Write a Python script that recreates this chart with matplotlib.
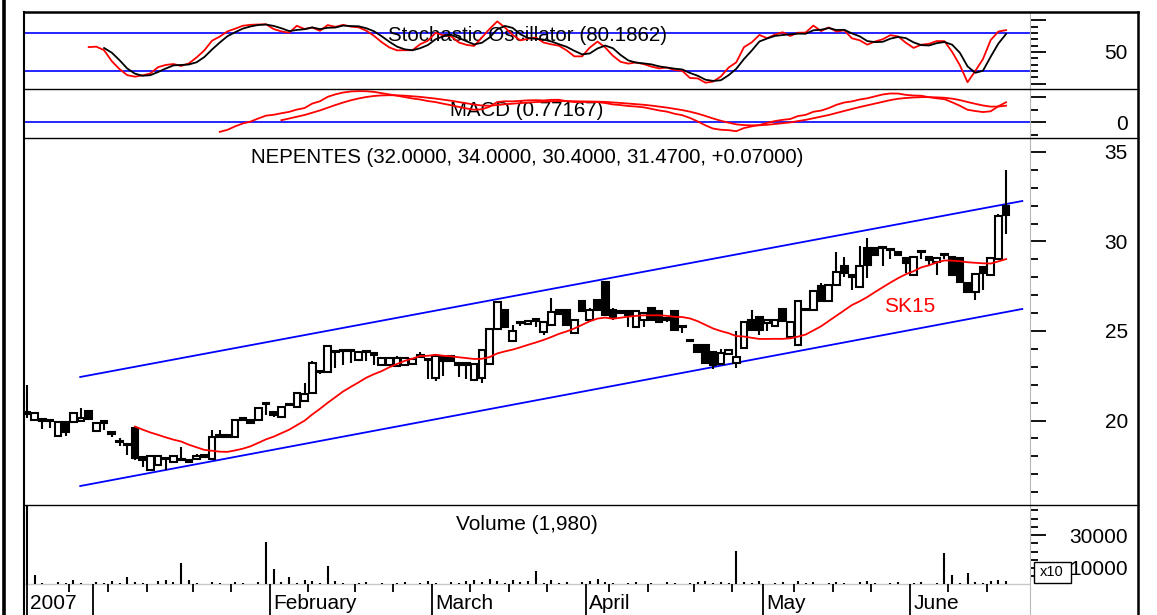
import matplotlib
matplotlib.use("Agg")
import matplotlib.pyplot as plt
from matplotlib.lines import Line2D
from matplotlib.patches import Rectangle
import numpy as np
import pandas as pd

plt.rcParams['font.family'] = ['Liberation Sans', 'DejaVu Sans']

# ---------------- data ----------------
opens = [20.45, 20.05, 20.05, 19.98, 19.15, 19.90, 19.90, 19.98, 20.55, 19.40,
         19.92, 19.30, 18.82, 18.65, 19.58, 17.97, 17.25, 17.50, 17.85, 17.70,
         17.80, 17.82, 17.85, 18.00, 17.85, 19.12, 19.10, 19.10, 20.05, 20.03,
         20.03, 20.95, 20.45, 20.20, 20.85, 20.75, 21.10, 21.55, 22.70, 22.70,
         23.85, 23.90, 23.88, 23.38, 23.82, 23.70, 23.10, 23.10, 23.05, 23.10,
         23.15, 23.55, 23.40, 22.40, 23.55, 23.60, 23.15, 23.15, 22.25, 22.40,
         23.15, 25.10, 26.20, 24.45, 25.45, 25.40, 25.60, 24.95, 25.35, 26.20,
         26.15, 24.90, 26.70, 25.60, 26.75, 27.75, 26.20, 26.10, 26.10, 25.25,
         25.60, 26.30, 26.10, 25.70, 26.10, 25.25, 24.45, 24.20, 24.20, 23.80,
         23.15, 23.70, 23.20, 24.05, 25.60, 25.80, 25.45, 25.30, 26.25, 24.65,
         24.20, 26.20, 26.15, 27.50, 26.70, 27.57, 28.63, 28.05, 27.45, 29.63,
         29.63, 29.65, 29.55, 29.41, 29.07, 28.13, 29.43, 29.13, 28.85, 29.26,
         29.13, 29.07, 27.68, 27.18, 28.57, 28.13, 29.02, 32.00]
highs = [22.00, 20.50, 20.10, 20.00, 19.95, 20.00, 20.45, 20.70, 20.60, 19.90,
         19.95, 19.35, 19.00, 18.70, 19.60, 18.00, 18.05, 18.05, 17.90, 18.05,
         18.50, 17.85, 18.15, 18.10, 19.45, 19.45, 19.20, 20.10, 20.20, 20.10,
         20.75, 21.00, 20.50, 20.80, 21.00, 21.60, 22.10, 23.30, 22.80, 24.20,
         23.90, 23.95, 23.95, 23.85, 23.90, 23.75, 23.55, 23.55, 23.60, 23.55,
         23.50, 23.80, 23.45, 23.70, 23.60, 23.62, 23.20, 23.20, 23.20, 24.00,
         25.15, 26.65, 26.25, 25.35, 25.50, 25.60, 25.65, 25.55, 26.85, 26.25,
         26.20, 25.65, 26.75, 26.30, 26.80, 27.80, 26.30, 26.15, 26.15, 26.15,
         26.05, 26.35, 26.15, 25.80, 26.15, 25.30, 24.50, 24.25, 24.25, 23.85,
         24.00, 24.00, 25.00, 25.55, 26.15, 25.85, 25.65, 25.65, 26.30, 25.55,
         26.70, 26.25, 27.30, 27.70, 27.60, 29.41, 29.13, 28.10, 29.75, 30.20,
         29.70, 29.70, 29.60, 29.45, 29.10, 29.20, 29.50, 29.15, 29.10, 29.30,
         29.20, 29.10, 27.70, 28.20, 28.60, 29.10, 31.55, 34.00]
lows = [20.15, 20.00, 19.50, 19.60, 19.10, 19.15, 19.85, 19.90, 20.05, 19.35,
        19.45, 19.10, 18.60, 18.10, 17.80, 17.40, 17.20, 17.45, 17.25, 17.65,
        17.75, 17.60, 17.80, 17.90, 17.80, 19.05, 19.00, 19.05, 19.95, 19.85,
        19.98, 20.30, 20.20, 20.15, 20.80, 20.70, 21.05, 21.50, 22.60, 22.65,
        22.95, 23.10, 23.20, 23.30, 23.30, 23.10, 23.05, 23.05, 23.00, 23.05,
        23.10, 23.50, 22.30, 22.20, 22.50, 23.25, 22.45, 22.30, 22.20, 22.10,
        23.10, 25.05, 25.15, 24.40, 25.30, 25.35, 25.20, 24.80, 25.30, 25.90,
        25.30, 24.85, 26.05, 25.55, 26.15, 25.85, 25.60, 25.95, 25.20, 25.20,
        25.20, 25.55, 25.45, 25.50, 25.00, 24.90, 24.40, 23.75, 23.15, 22.90,
        23.10, 23.65, 22.95, 24.00, 25.00, 24.80, 25.00, 25.25, 25.50, 24.60,
        24.15, 26.10, 26.10, 26.65, 26.65, 27.50, 28.02, 27.30, 27.40, 27.96,
        29.20, 28.63, 29.00, 29.20, 28.24, 28.08, 29.00, 28.68, 28.13, 29.00,
        28.08, 27.70, 27.15, 26.73, 27.30, 28.08, 28.95, 30.40]
closes = [20.35, 20.40, 20.00, 19.95, 19.90, 19.35, 20.40, 20.15, 20.10, 19.85,
          19.88, 19.27, 18.80, 18.62, 17.90, 17.80, 18.00, 18.00, 17.83, 18.00,
          17.78, 17.70, 18.00, 17.97, 19.10, 19.10, 19.12, 20.02, 20.08, 19.88,
          20.70, 20.92, 20.28, 20.75, 20.88, 21.55, 21.50, 23.20, 22.72, 24.15,
          23.80, 23.88, 23.90, 23.80, 23.80, 23.68, 23.50, 23.50, 23.50, 23.50,
          23.45, 23.65, 23.38, 23.60, 23.30, 23.30, 23.12, 23.12, 23.15, 23.95,
          25.10, 26.60, 25.20, 25.00, 25.42, 25.55, 25.58, 25.50, 26.05, 25.95,
          25.35, 25.60, 26.10, 26.20, 26.20, 25.90, 25.70, 26.00, 25.90, 26.10,
          26.00, 25.60, 25.50, 25.60, 25.05, 25.22, 24.42, 23.80, 23.20, 23.10,
          23.75, 23.95, 23.55, 25.50, 25.05, 25.05, 25.60, 25.60, 25.55, 25.50,
          26.65, 26.15, 27.25, 26.70, 27.55, 28.29, 28.25, 28.02, 28.63, 28.68,
          29.24, 29.62, 29.52, 29.24, 28.80, 29.13, 29.41, 28.96, 29.07, 29.24,
          28.13, 27.74, 27.18, 28.18, 28.24, 29.07, 31.40, 31.47]
volumes = [80000, 6000, 1200, 600, 1800, 1200, 3000, 1200, 600, 1800,
           1200, 2400, 1200, 4800, 1800, 1200, 600, 2400, 3000, 1800,
           13000, 3000, 1200, 600, 1800, 1200, 600, 1800, 1200, 600,
           1800, 25700, 9500, 1800, 4800, 1200, 3000, 2400, 1200, 11500,
           2400, 1200, 600, 1200, 1800, 600, 1200, 600, 1200, 1800,
           600, 1200, 2400, 1200, 600, 1800, 1200, 2400, 3000, 1800,
           3600, 2400, 1200, 3000, 1800, 2400, 8000, 1200, 3000, 1200,
           1800, 600, 1800, 2400, 3600, 1800, 1200, 600, 1200, 1800,
           600, 1200, 600, 1800, 1200, 600, 1200, 1800, 2400, 1200,
           1800, 1200, 20500, 1800, 1200, 2400, 600, 1200, 1800, 600,
           2400, 1200, 1800, 600, 1200, 1800, 1200, 600, 1800, 2400,
           1200, 600, 1200, 1800, 600, 1200, 1800, 600, 1200, 18800,
           6000, 1200, 7000, 1800, 1200, 2400, 3000, 1980]

month_labels = ["2007", "", "February", "March", "April", "May", "June"]
month_start = [0, 9, 32, 53, 73, 96, 115]
week_start = [6, 11, 16, 22, 27, 37, 43, 48, 58, 63, 68, 76, 81, 87, 92,
              100, 105, 110, 120, 125]

channel_x = [6.9, 129.1]
channel_upper = [22.43, 32.26]
channel_lower = [16.34, 26.23]

stoch_levels = [20, 80]
sma_period = 15
stoch_period, stoch_smooth = 7, 3

# ---------------- indicators ----------------
o = np.array(opens); h = np.array(highs); l = np.array(lows); c = np.array(closes)
n = len(c)
x = np.arange(n)
cs = pd.Series(c)
sma = cs.rolling(sma_period).mean()

lo_n = pd.Series(l).rolling(stoch_period).min()
hi_n = pd.Series(h).rolling(stoch_period).max()
fastk = 100 * (cs - lo_n) / (hi_n - lo_n)
slowk = fastk.rolling(stoch_smooth).mean()
slowd = slowk.rolling(3).mean()

ema12 = cs.ewm(span=12, adjust=False).mean()
ema26 = cs.ewm(span=26, adjust=False).mean()
macd = (ema12 - ema26)
macd[:25] = np.nan
signal = macd.ewm(span=9, adjust=False).mean()
signal[:33] = np.nan

# ---------------- figure ----------------
W, H = 1157, 615
fig = plt.figure(figsize=(W / 100, H / 100), dpi=100)
fig.patch.set_facecolor('white')

def fx(px):
    return px / W

def fy(py):
    return 1 - py / H

L_PX, R_PX = 24, 1030

def add_ax(top, bottom):
    ax = fig.add_axes([fx(L_PX), fy(bottom), (R_PX - L_PX) / W, (bottom - top) / H])
    for s in ['left', 'top', 'bottom']:
        ax.spines[s].set_visible(False)
    ax.spines['right'].set_color('#b8b8b8')
    ax.spines['right'].set_linewidth(0.8)
    ax.set_xlim(-0.39, 130.1)
    ax.tick_params(axis='x', which='both', bottom=False, labelbottom=False)
    ax.patch.set_alpha(0)
    return ax

def setup_right(ax, majors, labels, minors):
    ax.yaxis.tick_right()
    ax.set_yticks(majors)
    ax.set_yticklabels(labels)
    ax.set_yticks(minors, minor=True)
    ax.tick_params(axis='y', which='major', length=11.5, width=1.3, color='black',
                   pad=59, labelsize=15, direction='out', left=False, right=True)
    ax.tick_params(axis='y', which='minor', length=5.8, width=1.3, color='black',
                   direction='out', left=False, right=True)
    for t in ax.get_yticklabels():
        t.set_ha('right')

ax_st = add_ax(12, 89)
ax_md = add_ax(89, 138)
ax_pr = add_ax(138, 505)
ax_vo = add_ax(505, 615)

# Stochastic
ax_st.set_ylim(-8.4, 113)
for lev in stoch_levels:
    ax_st.axhline(lev, color='#0000ff', lw=1.2, zorder=1)
ax_st.plot(x, slowk, color='#ff0000', lw=1.3, zorder=3)
ax_st.plot(x, slowd, color='black', lw=1.3, zorder=3)
ax_st.text(0.5, 0.70, "Stochastic Oscillator (80.1862)", transform=ax_st.transAxes,
           ha='center', va='center', fontsize=14.8, zorder=2)
setup_right(ax_st, [0, 50, 100], ['', '50', ''], [10, 20, 30, 40, 60, 70, 80, 90])

# MACD
ax_md.set_ylim(-0.64, 1.32)
ax_md.axhline(0, color='#0000ff', lw=1.2, zorder=1)
ax_md.plot(x, macd, color='#ff0000', lw=1.3, zorder=3)
ax_md.plot(x, signal, color='#ff0000', lw=1.3, zorder=3)
ax_md.text(0.5, 0.571, "MACD (0.77167)", transform=ax_md.transAxes,
           ha='center', va='center', fontsize=14.8, zorder=2)
setup_right(ax_md, [0, 1], ['0', ''], [-0.5, 0.5])

# Price
ax_pr.set_ylim(15.28, 35.78)
ax_pr.plot(channel_x, channel_upper, color='#0000ff', lw=1.3, zorder=2)
ax_pr.plot(channel_x, channel_lower, color='#0000ff', lw=1.3, zorder=2)
ax_pr.plot(x, sma, color='#ff0000', lw=1.3, zorder=5)
ax_pr.vlines(x, l, h, color='black', lw=1.5, zorder=3)
up = c >= o
body_lo = np.minimum(o, c)
body_h = np.maximum(np.abs(c - o), 0.08)
ax_pr.bar(x, body_h, bottom=body_lo, width=0.86,
          color=np.where(up, 'white', 'black'), edgecolor='black', linewidth=1.5, zorder=4)
ax_pr.text(0.5, 0.948, "NEPENTES (32.0000, 34.0000, 30.4000, 31.4700, +0.07000)",
           transform=ax_pr.transAxes, ha='center', va='center', fontsize=14.7)
ax_pr.text(114.5, 26.34, "SK15", color='#ff0000', ha='center', va='center', fontsize=15)
setup_right(ax_pr, [20, 25, 30, 35], ['20', '25', '30', '35'],
            [v for v in range(16, 35) if v % 5 != 0])

# Volume
ax_vo.set_ylim(-18500, 48200)
ax_vo.axhline(0, color='#c8c8c8', lw=1.0, zorder=1)
ax_vo.vlines(x, 0, volumes, color='black', lw=1.5, zorder=3)
ax_vo.vlines([s - 0.5 for s in week_start], -4800, 0, color='black', lw=1.3)
month_pos = [max(s - 0.5, 0) for s in month_start]
ax_vo.vlines(month_pos, -18500, 0, color='black', lw=1.3)
for pos, lab in zip(month_pos, month_labels):
    if lab:
        ax_vo.text(pos + 0.45, -11400, lab, ha='left', va='center', fontsize=15)
ax_vo.text(0.5, 0.827, "Volume (1,980)", transform=ax_vo.transAxes,
           ha='center', va='center', fontsize=15)
setup_right(ax_vo, [10000, 30000], ['10000', '30000'],
            [5000, 15000, 20000, 25000, 35000, 40000, 45000])

# x10 box
fig.add_artist(Rectangle((fx(1034), fy(583)), (1071 - 1034) / W, 21 / H,
                         transform=fig.transFigure, facecolor='white',
                         edgecolor='black', lw=1.0, zorder=10))
fig.text(fx(1052), fy(572.5), "x10", ha='center', va='center', fontsize=10.5, zorder=11)

# frame lines
def fline(x0, y0, x1, y1, lw):
    fig.add_artist(Line2D([fx(x0), fx(x1)], [fy(y0), fy(y1)], transform=fig.transFigure,
                          color='black', lw=lw, zorder=12))

fline(3.5, 0, 3.5, 615, 2.6)
fline(24, 12, 24, 615, 1.5)
fline(1138, 12, 1138, 615, 1.8)
fline(24, 12, 1138, 12, 1.8)
for yy in (89, 138, 505):
    fline(24, yy, 1138, yy, 1.0)

fig.savefig("out.png", dpi=100, facecolor='white')
